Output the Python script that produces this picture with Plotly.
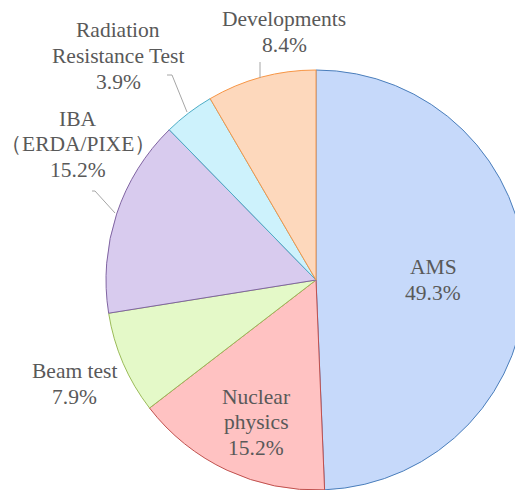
import plotly.graph_objects as go
# ---------------------------------------------------------------------------

# data
labels = ["AMS", "Nuclear physics", "Beam test", "IBA (ERDA/PIXE)",
          "Radiation Resistance Test", "Developments"]
label_lines = [["AMS"], ["Nuclear", "physics"], ["Beam test"], ["IBA", "（ERDA/PIXE）"],
               ["Radiation", "Resistance Test"], ["Developments"]]
values = [49.3, 15.2, 7.9, 15.2, 3.9, 8.4]

# colours (fill mid tone of gradient / border)
fills = ["#c6d9fa", "#ffc2c2", "#e4f9c8", "#d8cbee", "#cdf2fc", "#fdd8bc"]
borders = ["#4a7ebb", "#c0504d", "#9bbb59", "#8064a2", "#4bacc6", "#f79646"]

# label placement (pixels, centre of block) and leader lines
label_pos = [(433, 280), (256, 422), (74, 384), (78, 144), (118, 56), (284, 32)]
leaders = [None, None, None,
           [(92, 191), (95, 191), (115, 213)],
           [(167, 75), (172, 75), (187, 112)],
           [(260, 62), (260, 78)]]

W, H = 530, 490
FONT = "Liberation Serif, Times New Roman, serif"
LINE = 25.5
# ---------------------------------------------------------------------------

# create pie
fig = go.Figure(go.Pie(
  labels=labels, values=values, sort=False, direction="clockwise", rotation=0,
  textinfo="none", hoverinfo="label+percent",
  marker=dict(colors=fills, line=dict(color=borders, width=1)),
  domain=dict(x=[106 / W, 526 / W], y=[0, 420 / H]),
  showlegend=False,
))

# labels, one annotation per line for tight spacing
total = sum(values)
for lines, v, (cx, cy) in zip(label_lines, values, label_pos):
  rows = lines + [f"{v / total * 100:.1f}%"]
  n = len(rows)
  for i, row in enumerate(rows):
    y = cy + (i - (n - 1) / 2) * LINE
    fig.add_annotation(
      x=cx / W, y=1 - y / H, xref="paper", yref="paper",
      text=row, showarrow=False, xanchor="center", yanchor="middle",
      borderpad=0, font=dict(family=FONT, size=21.5, color="#595959"),
    )

# leader lines
for pts in leaders:
  if pts is None:
    continue
  path = "M " + " L ".join(f"{x / W} {1 - y / H}" for x, y in pts)
  fig.add_shape(type="path", path=path, xref="paper", yref="paper",
                line=dict(color="#a6a6a6", width=1))

# custom layout
fig.update_layout(
  width=W, height=H, autosize=False,
  margin=dict(l=0, r=0, t=0, b=0),
  font=dict(family=FONT),
  paper_bgcolor="white", plot_bgcolor="white",
)

fig.write_html("out.html", config=dict(displayModeBar=False),
               post_script="document.body.style.margin='0';document.body.style.overflow='hidden';")
